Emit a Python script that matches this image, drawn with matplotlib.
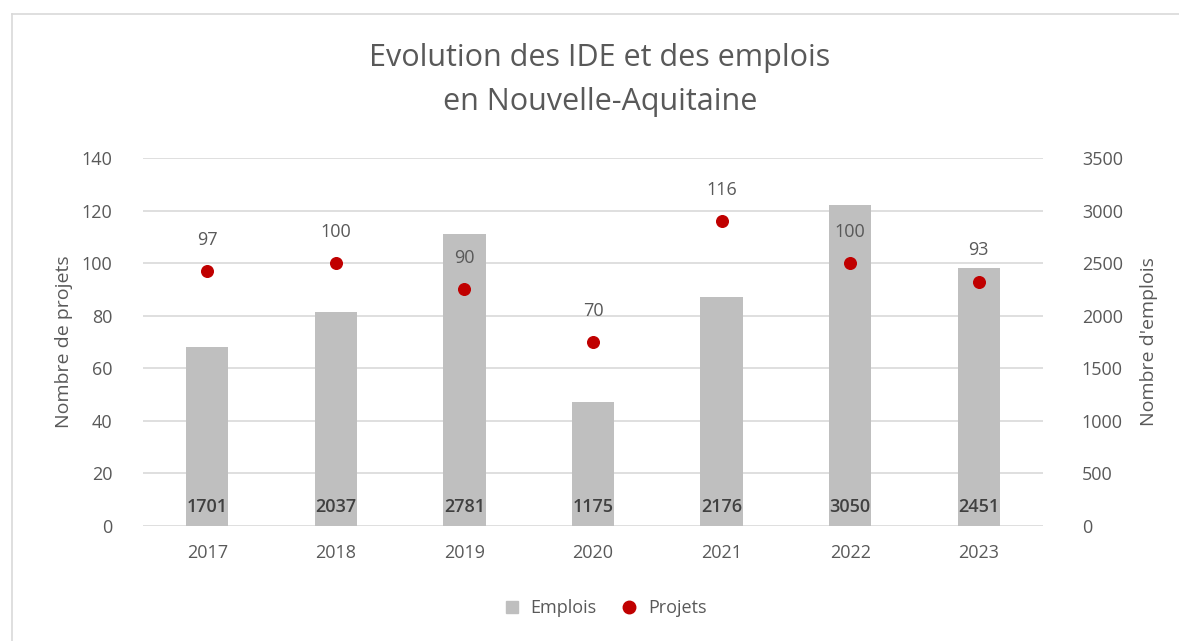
import matplotlib.pyplot as plt
from matplotlib.lines import Line2D

# Data
annees = ["2017", "2018", "2019", "2020", "2021", "2022", "2023"]
emplois = [1701, 2037, 2781, 1175, 2176, 3050, 2451]
projets = [97, 100, 90, 70, 116, 100, 93]

plt.rcParams['font.family'] = ['Open Sans', 'DejaVu Sans']
gris_txt = '#595959'

fig = plt.figure(figsize=(11.79, 6.41), dpi=100)
W, H = 1179, 641
ax = fig.add_axes([143 / W, 1 - 526 / H, 900 / W, (526 - 158) / H])
ax2 = ax.twinx()

x = list(range(len(annees)))

# bars on the secondary (emplois) axis
ax2.bar(x, emplois, width=0.33, color='#BFBFBF', zorder=2)
ax2.set_ylim(0, 3500)
ax2.set_yticks(range(0, 3501, 500))
for xi, v in zip(x, emplois):
    ax2.text(xi, 95, str(v), ha='center', va='bottom', fontsize=13,
             fontweight='semibold', color='#404040', zorder=5)

# points on the primary (projets) axis
ax.set_zorder(ax2.get_zorder() + 1)
ax.patch.set_visible(False)
ax.scatter(x, projets, s=70, color='#C00000', zorder=4)
for xi, v in zip(x, projets):
    ax.text(xi, v + 8.5, str(v), ha='center', va='bottom', fontsize=13, color=gris_txt)
ax.set_ylim(0, 140)
ax.set_yticks(range(0, 141, 20))
ax.set_xlim(-0.5, len(annees) - 0.5)
ax.set_xticks(x)
ax.set_xticklabels(annees)

# gridlines drawn on the bar axis so they sit behind the bars
ax2.grid(axis='y', color='#D9D9D9', linewidth=1.2, zorder=0)
ax2.set_axisbelow(True)

for a in (ax, ax2):
    for s in a.spines.values():
        s.set_visible(False)
    a.tick_params(length=0, labelsize=13, labelcolor=gris_txt, pad=10)
ax.tick_params(axis='y', pad=22)
ax2.tick_params(axis='y', pad=28)
ax.tick_params(axis='x', pad=13)

ax.set_ylabel("Nombre de projets", fontsize=14, color=gris_txt, labelpad=6)
ax2.set_ylabel("Nombre d'emplois", fontsize=14, color=gris_txt, labelpad=12)

fig.text(600 / W, 1 - 58 / H, "Evolution des IDE et des emplois", ha='center', va='center',
         fontsize=22, color=gris_txt)
fig.text(600 / W, 1 - 102 / H, "en Nouvelle-Aquitaine", ha='center', va='center',
         fontsize=22, color=gris_txt)

handles = [Line2D([], [], marker='s', linestyle='none', color='#BFBFBF', markersize=8),
           Line2D([], [], marker='o', linestyle='none', color='#C00000', markersize=9)]
fig.legend(handles, ["Emplois", "Projets"], loc='center', bbox_to_anchor=(600 / W, 1 - 608 / H),
           ncol=2, frameon=False, fontsize=13, handletextpad=0.05, columnspacing=0.8,
           labelcolor=gris_txt)

# chart frame (top and left edges visible)
fig.add_artist(Line2D([12 / W, 1], [1 - 14 / H, 1 - 14 / H], color='#D9D9D9', linewidth=1.2))
fig.add_artist(Line2D([12 / W, 12 / W], [0, 1 - 14 / H], color='#D9D9D9', linewidth=1.2))

fig.savefig('out.png', dpi=100)
